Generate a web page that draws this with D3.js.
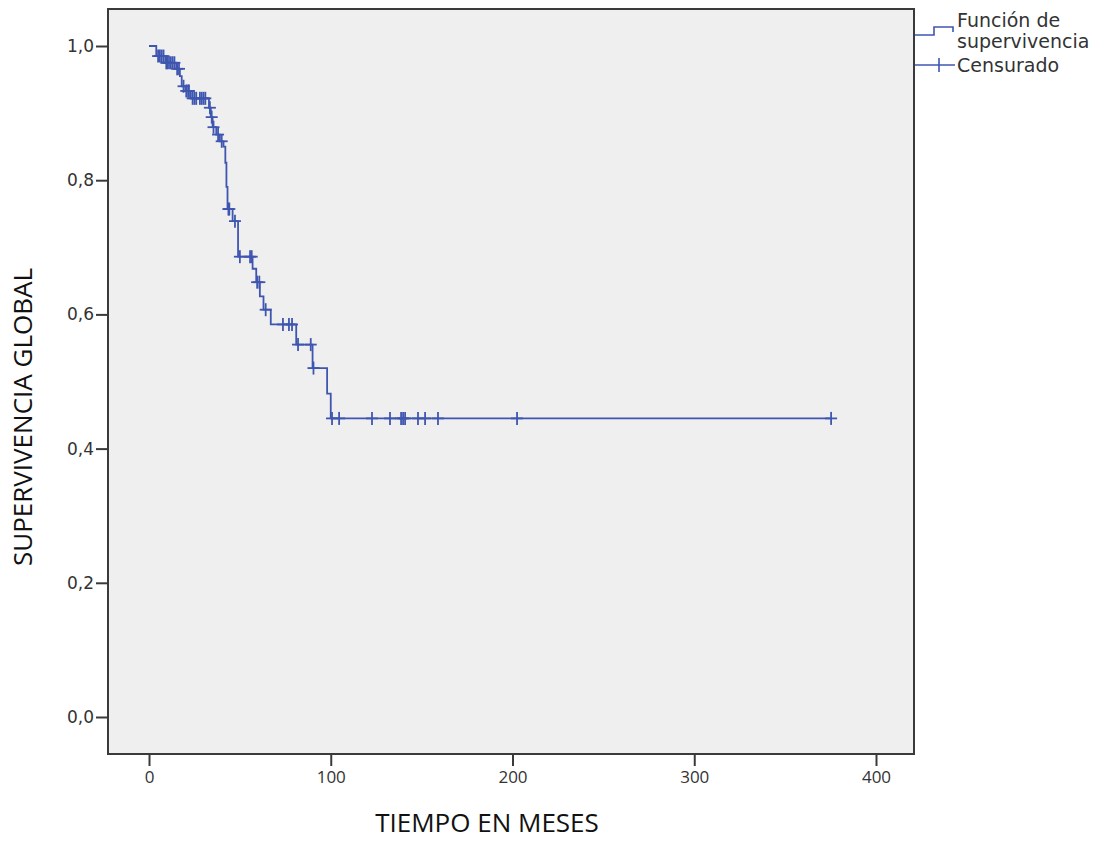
<!DOCTYPE html>
<html>
<head>
<meta charset="utf-8">
<script src="https://cdnjs.cloudflare.com/ajax/libs/d3/7.8.5/d3.min.js"></script>
<style>
	body { margin: 0; background: #ffffff; }
	#outer { width: 1107px; height: 841px; }
</style>
</head>
<body>
<div id="outer"></div>
<script>

////////// Data //////////
// step function of the Kaplan-Meier estimate: time of each drop and level after it
const stepTimes = [0, 4, 9, 15, 17, 18, 20, 23, 33, 34, 35, 37, 39, 41, 42, 42.6, 43.2, 46, 49, 57, 59, 61, 63, 67, 81, 90, 98, 100];
const survival = [1.0, 0.985, 0.975, 0.966, 0.955, 0.94, 0.933, 0.922, 0.908, 0.894, 0.879, 0.868, 0.858, 0.85, 0.826, 0.79, 0.757, 0.739, 0.686, 0.668, 0.648, 0.627, 0.607, 0.585, 0.555, 0.52, 0.482, 0.445];
// censored cases (months)
const censoredTimes = [5, 6, 7, 8, 9.5, 10, 11, 12, 13, 14, 15.5, 16.5, 19, 20.5, 21.5, 22, 24, 25, 26, 28, 29, 30, 31,
	33.5, 34.5, 35.5, 38, 40, 43.7, 44.2, 47.3, 50, 55.6, 56.5, 59.5, 60.7, 64.2, 73.7, 77, 78.7, 82, 89, 90.5,
	100.7, 104.6, 122.7, 132.6, 138.7, 139.8, 140.9, 148, 151.9, 159, 202.5, 375.3];
const xTicks = [0, 100, 200, 300, 400];
const yTicks = [0, 0.2, 0.4, 0.6, 0.8, 1.0];
const legendLabels = [['Función de', 'supervivencia'], ['Censurado']];


function drawChart () {

	////////// Hard Coded Defs //////////
	const width = 1107;
	const height = 841;
	const frame = {left: 108, top: 9, right: 914, bottom: 754};
	const lineColor = '#3f56b0';
	const axisColor = '#3a3a3a';
	const textColor = '#333333';
	const plotBg = '#efefef';
	const yTickFont = '17px "DejaVu Sans"';
	const xTickFont = '17px "Open Sans"';
	const titleFont = '26px "Open Sans"';
	const legendFont = '19px "DejaVu Sans"';
	const tickLen = 11;
	const markHalfW = 6;
	const markHalfH = 6.5;

	// ********************************************* SCALES ******************************************************* //
	const x = d3.scaleLinear().domain([0, 400]).range([149, 876]);
	const y = d3.scaleLinear().domain([0, 1]).range([717, 46]);

	// value of the step function at time t
	const survAt = t => survival[d3.bisectRight(stepTimes, t) - 1];

	// ********************************************* DRAW ******************************************************* //
	const svg = d3.select('#outer').append('svg')
		.attr('width', width)
		.attr('height', height);

	svg.append('rect')
		.attr('x', frame.left)
		.attr('y', frame.top)
		.attr('width', frame.right - frame.left)
		.attr('height', frame.bottom - frame.top)
		.attr('fill', plotBg)
		.attr('stroke', axisColor)
		.attr('stroke-width', 2);

	// y axis
	const yAxis = svg.append('g')
		.attr('transform', `translate(${frame.left - 1}, 0)`)
		.call(d3.axisLeft(y).tickValues(yTicks).tickSize(tickLen).tickPadding(2)
			.tickFormat(d => d3.format('.1f')(d).replace('.', ',')));
	yAxis.select('.domain').remove();
	yAxis.selectAll('line').attr('stroke', axisColor).attr('stroke-width', 2);
	yAxis.selectAll('text').style('font', yTickFont).attr('fill', textColor);

	// x axis
	const xAxis = svg.append('g')
		.attr('transform', `translate(0, ${frame.bottom + 1})`)
		.call(d3.axisBottom(x).tickValues(xTicks).tickSize(tickLen).tickPadding(5));
	xAxis.select('.domain').remove();
	xAxis.selectAll('line').attr('stroke', axisColor).attr('stroke-width', 2);
	xAxis.selectAll('text').style('font', xTickFont).attr('fill', textColor);

	// axis titles
	svg.append('text')
		.attr('x', 487)
		.attr('y', 832)
		.attr('text-anchor', 'middle')
		.style('font', titleFont)
		.attr('fill', '#111')
		.text('TIEMPO EN MESES');
	svg.append('text')
		.attr('transform', `translate(32, 417) rotate(-90)`)
		.attr('text-anchor', 'middle')
		.style('font', titleFont)
		.attr('fill', '#111')
		.text('SUPERVIVENCIA GLOBAL');

	// ********************************************* CURVE ******************************************************* //
	const lastTime = d3.max(censoredTimes);
	const curvePts = stepTimes.map((t, i) => [t, survival[i]]).concat([[lastTime, survival[survival.length - 1]]]);
	const line = d3.line()
		.x(d => x(d[0]))
		.y(d => y(d[1]))
		.curve(d3.curveStepAfter);

	const plot = svg.append('g').attr('class', 'plot');
	plot.append('path')
		.datum(curvePts)
		.attr('d', line)
		.attr('fill', 'none')
		.attr('stroke', lineColor)
		.attr('stroke-width', 1.8);

	const marks = plot.selectAll('.cens')
		.data(censoredTimes)
		.join('g')
		.attr('class', 'cens')
		.attr('transform', d => `translate(${x(d)}, ${y(survAt(d))})`)
		.attr('stroke', lineColor)
		.attr('stroke-width', 1.8);
	marks.append('line').attr('x1', -markHalfW).attr('x2', markHalfW);
	marks.append('line').attr('y1', -markHalfH).attr('y2', markHalfH);

	// ********************************************* LEGEND ******************************************************* //
	const legend = svg.append('g').attr('class', 'legend');
	legend.append('path')
		.attr('d', 'M915,35 H934 V27 H953 V32')
		.attr('fill', 'none')
		.attr('stroke', lineColor)
		.attr('stroke-width', 1.6);
	legend.append('line')
		.attr('x1', 915).attr('x2', 955).attr('y1', 65).attr('y2', 65)
		.attr('stroke', lineColor).attr('stroke-width', 1.6);
	legend.append('line')
		.attr('x1', 939).attr('x2', 939).attr('y1', 58).attr('y2', 72)
		.attr('stroke', lineColor).attr('stroke-width', 1.6);

	const legendY = [[27, 48], [72]];
	legendLabels.forEach((lines, i) => {
		lines.forEach((txt, j) => {
			legend.append('text')
				.attr('x', 957)
				.attr('y', legendY[i][j])
				.style('font', legendFont)
				.attr('fill', textColor)
				.text(txt);
		});
	});
}

drawChart();
</script>
</body>
</html>
